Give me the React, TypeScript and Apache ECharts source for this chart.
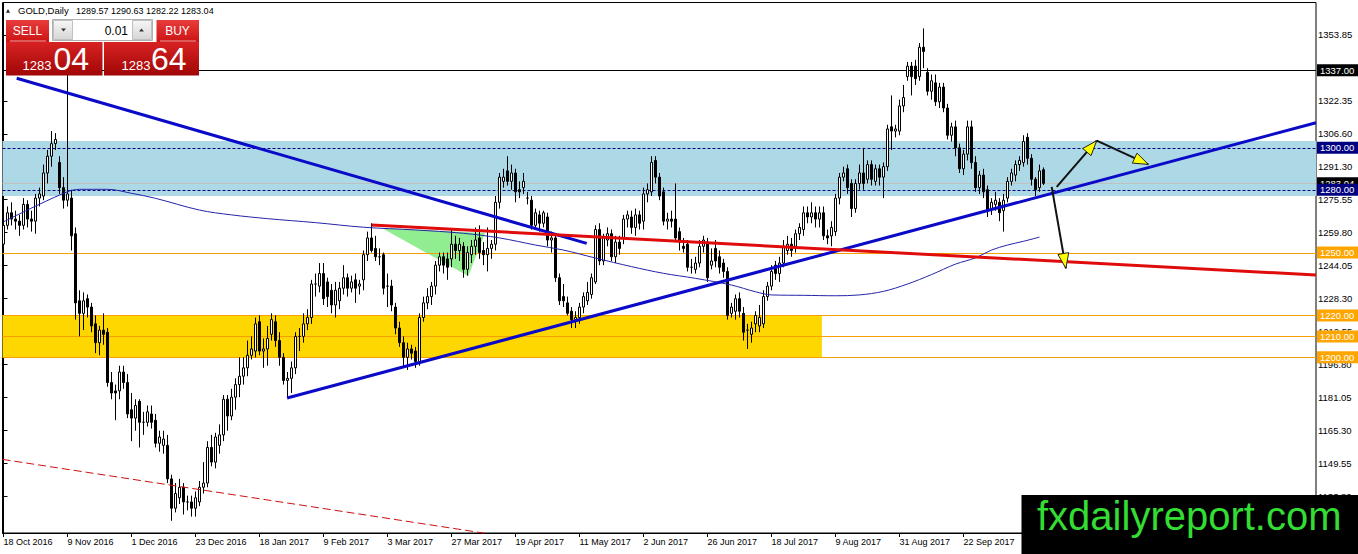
import React, { useEffect, useRef } from "react";
import * as echarts from "echarts";

const FONT = "'Liberation Sans', Arial, sans-serif";

// ---- axis data ----
const dateLabels = [
  "18 Oct 2016", "9 Nov 2016", "1 Dec 2016", "23 Dec 2016", "18 Jan 2017", "9 Feb 2017",
  "3 Mar 2017", "27 Mar 2017", "19 Apr 2017", "11 May 2017", "2 Jun 2017", "26 Jun 2017",
  "18 Jul 2017", "9 Aug 2017", "31 Aug 2017", "22 Sep 2017", "16 Oct 2017",
];
const dateLabelBars = [0, 16, 32, 48, 64, 80, 96, 112, 128, 144, 160, 176, 192, 208, 224, 240, 256];
const priceTicks = [1353.85, 1322.35, 1306.6, 1291.3, 1275.55, 1259.8, 1244.05, 1228.3, 1212.55, 1196.8, 1181.05, 1165.3, 1149.55, 1133.8];

// ---- daily bars: [open, close, low, high] ----
const ohlc: number[][] = [
  [1254,1263,1252,1266],[1263,1269,1261,1272],[1269,1266,1263,1274],[1266,1265,1261,1270],[1265,1263,1258,1268],
  [1263,1273,1261,1276],[1273,1266,1262,1275],[1266,1265,1260,1270],[1265,1276,1259,1278],[1276,1278,1272,1281],
  [1277,1288,1275,1292],[1288,1296,1283,1299],[1296,1302,1291,1308],[1302,1304,1299,1307],[1293,1281,1278,1296],
  [1281,1275,1271,1286],[1275,1278,1272,1337.4],[1276,1258,1251,1280],[1259,1226,1218,1262],[1227,1221,1210,1232],
  [1221,1227,1213,1231],[1228,1224,1219,1230],[1224,1215,1212,1226],[1216,1207,1202,1220],[1207,1213,1201,1215],
  [1213,1211,1206,1221],[1212,1188,1186,1214],[1188,1183,1180,1193],[1184,1183,1170,1187],[1184,1193,1180,1196],
  [1193,1188,1185,1196],[1188,1173,1171,1192],[1175,1171,1160,1183],[1171,1177,1165,1180],[1179,1169,1157,1180],
  [1169,1169,1163,1174],[1169,1174,1167,1177],[1173,1169,1166,1177],[1170,1159,1157,1173],[1159,1162,1155,1165],
  [1158,1161,1154,1165],[1158,1142,1140,1163],[1142,1128,1122,1144],[1128,1135,1126,1140],[1133,1138,1130,1142],
  [1138,1131,1125,1140],[1131,1131,1127,1134],[1131,1128,1124,1134],[1128,1133,1124,1136],[1131,1138,1129,1141],
  [1138,1140,1135,1150],[1140,1157,1138,1160],[1157,1150,1148,1163],[1150,1162,1147,1164],[1158,1163,1154,1168],
  [1163,1180,1160,1182],[1180,1172,1165,1182],[1172,1181,1170,1185],[1181,1187,1175,1190],[1187,1191,1181,1200],
  [1191,1195,1187,1200],[1195,1201,1191,1208],[1201,1204,1199,1210],[1203,1216,1200,1219],[1217,1203,1201,1220],
  [1203,1204,1195,1209],[1204,1209,1196,1215],[1211,1218,1208,1221],[1217,1208,1205,1220],[1208,1200,1196,1212],
  [1200,1189,1187,1202],[1189,1190,1181,1193],[1190,1195,1183,1198],[1195,1210,1192,1212],[1210,1210,1203,1214],
  [1210,1216,1207,1221],[1216,1219,1213,1223],[1219,1235,1216,1237],[1235,1235,1229,1240],[1234,1240,1231,1245],
  [1240,1228,1225,1245],[1236,1229,1224,1238],[1232,1225,1221,1235],[1225,1232,1219,1236],[1227,1233,1223,1236],
  [1233,1238,1230,1244],[1238,1233,1229,1240],[1233,1236,1231,1239],[1237,1233,1226,1240],[1234,1235,1230,1237],
  [1237,1249,1232,1251],[1249,1257,1246,1260],[1257,1251,1250,1264],[1252,1248,1246,1258],[1248,1248,1244,1252],
  [1249,1233,1230,1250],[1234,1234,1224,1240],[1234,1225,1222,1237],[1224,1214,1211,1226],[1214,1207,1205,1217],
  [1207,1200,1196,1210],[1200,1204,1194,1207],[1204,1202,1199,1206],[1203,1198,1195,1205],[1198,1219,1196,1221],
  [1219,1226,1217,1229],[1226,1229,1223,1233],[1229,1234,1225,1236],[1234,1244,1230,1246],[1244,1248,1241,1250],
  [1248,1244,1240,1250],[1247,1243,1237,1250],[1247,1254,1243,1261],[1254,1251,1247,1258],[1251,1254,1246,1257],
  [1253,1242,1238,1255],[1242,1250,1239,1253],[1249,1253,1245,1256],[1253,1256,1249,1262],[1257,1250,1247,1263],
  [1251,1249,1244,1255],[1249,1252,1241,1262],[1252,1254,1247,1256],[1254,1274,1251,1277],[1274,1286,1271,1288],
  [1284,1286,1281,1290],[1289,1284,1282,1296],[1284,1288,1280,1292],[1288,1279,1274,1290],[1280,1279,1276,1284],
  [1281,1284,1278,1288],[1276,1276,1273,1279],[1275,1263,1261,1277],[1263,1269,1261,1271],[1268,1264,1260,1270],
  [1264,1269,1262,1270],[1267,1256,1253,1269],[1256,1257,1250,1260],[1257,1238,1236,1259],[1238,1227,1225,1240],
  [1229,1227,1224,1235],[1226,1221,1220,1229],[1222,1218,1214,1224],[1218,1219,1214,1222],[1219,1224,1216,1226],
  [1224,1229,1221,1231],[1227,1231,1225,1236],[1230,1238,1228,1240],[1236,1261,1235,1263],[1261,1246,1244,1264],
  [1246,1257,1244,1259],[1256,1259,1253,1262],[1259,1248,1246,1261],[1248,1255,1245,1258],[1255,1252,1249,1258],
  [1257,1266,1254,1268],[1266,1268,1262,1270],[1267,1262,1259,1270],[1262,1268,1258,1271],[1268,1264,1261,1270],
  [1265,1278,1261,1281],[1278,1280,1274,1283],[1279,1293,1277,1296],[1294,1286,1283,1296],[1286,1277,1275,1288],
  [1279,1265,1263,1281],[1265,1266,1261,1269],[1266,1265,1262,1270],[1266,1257,1255,1283],[1260,1255,1251,1262],
  [1253,1252,1250,1257],[1254,1243,1241,1256],[1243,1243,1240,1247],[1242,1245,1240,1248],[1245,1253,1243,1256],
  [1253,1256,1250,1258],[1255,1238,1236,1257],[1244,1246,1242,1252],[1252,1246,1243,1256],[1248,1243,1240,1251],
  [1245,1241,1238,1247],[1241,1220,1218,1243],[1221,1224,1219,1226],[1222,1228,1218,1230],[1228,1222,1219,1231],
  [1221,1212,1208,1224],[1213,1213,1204,1216],[1211,1214,1207,1217],[1216,1220,1212,1222],[1215,1219,1212,1225],
  [1216,1229,1214,1232],[1229,1234,1227,1236],[1234,1241,1232,1244],[1244,1240,1237,1246],[1240,1245,1236,1248],
  [1245,1253,1243,1256],[1251,1254,1249,1258],[1254,1251,1248,1257],[1253,1259,1250,1261],[1259,1262,1256,1264],
  [1261,1269,1258,1272],[1269,1267,1264,1272],[1267,1269,1264,1274],[1269,1266,1262,1272],[1266,1269,1262,1272],
  [1269,1258,1256,1272],[1258,1257,1254,1261],[1258,1262,1253,1265],[1260,1276,1258,1278],[1276,1286,1273,1288],
  [1286,1288,1284,1291],[1290,1281,1278,1292],[1283,1271,1267,1285],[1271,1283,1269,1285],[1283,1288,1280,1292],
  [1288,1283,1280,1300],[1285,1292,1283,1294],[1292,1285,1282,1294],[1284,1290,1282,1292],[1290,1286,1282,1292],
  [1286,1291,1276,1293],[1291,1309,1289,1311],[1310,1308,1299,1325],[1308,1309,1305,1311],[1308,1320,1306,1323],
  [1320,1324,1317,1330],[1334,1339,1332,1341],[1339,1334,1325,1341],[1339,1333,1330,1342],[1334,1348,1332,1350],
  [1348,1346,1338,1357],[1336,1327,1325,1338],[1327,1332,1323,1335],[1331,1322,1320,1335],[1322,1329,1319,1331],
  [1329,1319,1317,1331],[1319,1306,1304,1321],[1306,1310,1303,1312],[1310,1300,1296,1313],[1300,1290,1288,1302],
  [1290,1297,1287,1299],[1297,1310,1294,1313],[1310,1293,1290,1313],[1293,1281,1279,1296],[1281,1287,1278,1289],
  [1287,1279,1276,1290],[1280,1270,1267,1282],[1271,1274,1268,1276],[1273,1275,1270,1279],[1274,1269,1265,1276],
  [1270,1275,1260,1278],[1276,1284,1274,1286],[1284,1288,1282,1290],[1287,1292,1284,1294],[1292,1294,1289,1296],
  [1293,1303,1291,1306],[1305,1295,1292,1307],[1295,1285,1282,1297],[1285,1280,1277,1286],[1281,1289,1279,1292],
  [1289.57,1283.04,1282.22,1290.63],
];

// ---- moving average (bar index, value) ----
const maBars = [0, 15, 19, 26, 32, 38, 49, 57, 66, 78, 90, 103, 115, 124, 133, 140, 148, 157, 165, 173, 182, 188, 192, 200, 208, 214, 220, 226, 232, 238, 243, 247, 251, 255, 259];
const maValues = [1264.7, 1278.3, 1280.2, 1280.2, 1278.3, 1275.9, 1270.3, 1268.0, 1266.2, 1264.3, 1262.1, 1260.8, 1259.2, 1257.0, 1253.6, 1251.2, 1247.4, 1243.3, 1240.1, 1237.7, 1234.5, 1231.3, 1229.8, 1229.6, 1229.4, 1229.8, 1231.5, 1235.0, 1239.5, 1244.5, 1247.5, 1251.2, 1253.6, 1255.4, 1257.4];

// ---- drawn objects (bar index, price) ----
const zoneBounds = [[1303.3, 1277.0], [1220.2, 1200.0]];
const zoneEndBar = [null, 204.6];
const levelValues = [1337, 1300, 1283.04, 1280, 1250, 1220, 1210, 1200];
const trendLines = [
  [[3.3, 1333.2], [145.8, 1254.4]],
  [[70.9, 1180.6], [328.125, 1312.0]],
  [[92.0, 1263.2], [328.125, 1239.3]],
  [[-0.25, 1151.3], [120.2, 1116.1]],
];
const greenTriangle = [[94.55, 1261.7], [120.4, 1259.3], [116.2, 1238.8]];
const arrowLines = [
  [[263.3, 1281.4], [273.3, 1303.4]],
  [[273.3, 1303.4], [286.2, 1292.1]],
  [[262.05, 1281.4], [265.6, 1242.5]],
];

// ---- styles ----
const X_MIN = -0.25;
const X_MAX = 328.125;
const Y_MIN = 1116.17;
const Y_MAX = 1369.36;
const zoneColors = ["#add8e6", "#ffd700"];
const levelStyles = [
  { color: "#000000", dash: null as number[] | null, bg: "#000000" },
  { color: "#000080", dash: [3, 2], bg: "#000080" },
  { color: "#c0c0c0", dash: null, bg: "#000000" },
  { color: "#000080", dash: [3, 2], bg: "#000080" },
  { color: "#f5a000", dash: null, bg: "#ffa500" },
  { color: "#f5a000", dash: null, bg: "#ffa500" },
  { color: "#f5a000", dash: null, bg: "#ffa500" },
  { color: "#f5a000", dash: null, bg: "#ffa500" },
];
const trendStyles = [
  { color: "#0a0ac8", width: 3, dash: null as number[] | null },
  { color: "#0a0ac8", width: 3, dash: null },
  { color: "#e00c0c", width: 3, dash: null },
  { color: "#d01010", width: 1, dash: [8, 4] },
];

const redGrad = (a: string, b: string) => ({
  type: "linear", x: 0, y: 0, x2: 0, y2: 1,
  colorStops: [{ offset: 0, color: a }, { offset: 1, color: b }],
});

function buildPanel(): any[] {
  const g: any[] = [];
  // header
  g.push({ type: "polygon", shape: { points: [[6, 12.7], [10, 12.7], [8, 9]] }, style: { fill: "#222" }, z: 100 });
  g.push({ type: "text", x: 18, y: 10.8, style: { text: "GOLD,Daily", fill: "#000", fontSize: 9.5, fontFamily: FONT, verticalAlign: "middle" }, z: 100 });
  g.push({ type: "text", x: 76, y: 10.8, style: { text: "1289.57 1290.63 1282.22 1283.04", fill: "#000", fontSize: 9, fontFamily: FONT, verticalAlign: "middle" }, z: 100 });
  // upper row
  g.push({ type: "rect", shape: { x: 6, y: 20, width: 43, height: 22 }, style: { fill: redGrad("#e83c3c", "#cc1414") }, z: 100 });
  g.push({ type: "rect", shape: { x: 156.5, y: 20, width: 42.5, height: 22 }, style: { fill: redGrad("#e83c3c", "#cc1414") }, z: 100 });
  g.push({ type: "text", x: 27.5, y: 30.5, style: { text: "SELL", fill: "#fff", fontSize: 12, fontFamily: FONT, align: "center", verticalAlign: "middle" }, z: 101 });
  g.push({ type: "text", x: 177.5, y: 30.5, style: { text: "BUY", fill: "#fff", fontSize: 12, fontFamily: FONT, align: "center", verticalAlign: "middle" }, z: 101 });
  g.push({ type: "line", shape: { x1: 10, y1: 41, x2: 46, y2: 41 }, style: { stroke: "rgba(255,255,255,0.6)", lineWidth: 1 }, z: 101 });
  g.push({ type: "line", shape: { x1: 160, y1: 41, x2: 196, y2: 41 }, style: { stroke: "rgba(255,255,255,0.6)", lineWidth: 1 }, z: 101 });
  // spinner
  g.push({ type: "rect", shape: { x: 52.5, y: 19.5, width: 100, height: 21 }, style: { fill: "#fff", stroke: "#b0b0b0", lineWidth: 1 }, z: 100 });
  g.push({ type: "rect", shape: { x: 53.5, y: 20.5, width: 19, height: 19 }, style: { fill: redGrad("#f6f6f6", "#d6d6d6"), stroke: "#c0c0c0", lineWidth: 1 }, z: 101 });
  g.push({ type: "rect", shape: { x: 132.5, y: 20.5, width: 19, height: 19 }, style: { fill: redGrad("#f6f6f6", "#d6d6d6"), stroke: "#c0c0c0", lineWidth: 1 }, z: 101 });
  g.push({ type: "polygon", shape: { points: [[61, 28.5], [66, 28.5], [63.5, 31.5]] }, style: { fill: "#333" }, z: 102 });
  g.push({ type: "polygon", shape: { points: [[139, 31.5], [144, 31.5], [141.5, 28.5]] }, style: { fill: "#333" }, z: 102 });
  g.push({ type: "text", x: 128, y: 30.5, style: { text: "0.01", fill: "#000", fontSize: 12, fontFamily: FONT, align: "right", verticalAlign: "middle" }, z: 101 });
  // price boxes
  g.push({ type: "rect", shape: { x: 6, y: 42, width: 96.5, height: 33.5 }, style: { fill: redGrad("#d82222", "#a00606") }, z: 100 });
  g.push({ type: "rect", shape: { x: 104, y: 42, width: 95, height: 33.5 }, style: { fill: redGrad("#d82222", "#a00606") }, z: 100 });
  g.push({ type: "text", x: 22.5, y: 65.5, style: { text: "1283", fill: "#fff", fontSize: 13, fontFamily: FONT, verticalAlign: "middle" }, z: 101 });
  g.push({ type: "text", x: 53.5, y: 59.3, style: { text: "04", fill: "#fff", fontSize: 32, fontFamily: FONT, verticalAlign: "middle" }, z: 101 });
  g.push({ type: "text", x: 121.5, y: 65.5, style: { text: "1283", fill: "#fff", fontSize: 13, fontFamily: FONT, verticalAlign: "middle" }, z: 101 });
  g.push({ type: "text", x: 151, y: 59.3, style: { text: "64", fill: "#fff", fontSize: 32, fontFamily: FONT, verticalAlign: "middle" }, z: 101 });
  // logo
  g.push({ type: "rect", shape: { x: 1021.5, y: 495, width: 337, height: 59 }, style: { fill: "#000" }, z: 100 });
  g.push({ type: "text", x: 1037, y: 516, style: { text: "fxdailyreport.com", fill: "#33dd33", fontSize: 40, fontFamily: FONT, verticalAlign: "middle" }, z: 101 });
  return g;
}

export default function App() {
  const ref = useRef<HTMLDivElement>(null);

  useEffect(() => {
    if (!ref.current) return;
    const chart = echarts.init(ref.current, null, { renderer: "svg" });

    const candleData = ohlc.map((d, i) => [i, d[0], d[1], d[2], d[3]]);
    const maData = maBars.map((b, k) => [b, maValues[k]]);

    const option: any = {
      animation: false,
      backgroundColor: "#ffffff",
      grid: {
        left: 2.5, right: 42, top: 2.5, bottom: 21,
        show: true, borderColor: "#000", borderWidth: 1, backgroundColor: "#fff",
        containLabel: false, outerBoundsMode: "none",
      },
      xAxis: {
        type: "value", min: X_MIN, max: X_MAX,
        splitLine: { show: false },
        axisLine: { show: true, lineStyle: { color: "#000", width: 1 } },
        axisTick: { show: true, customValues: dateLabelBars, length: 4, lineStyle: { color: "#000" } },
        axisLabel: {
          customValues: dateLabelBars, margin: 4, align: "left",
          color: "#000", fontSize: 9, fontFamily: FONT,
          formatter: (v: number) => {
            const k = dateLabelBars.indexOf(Math.round(v));
            return k >= 0 ? dateLabels[k] : "";
          },
        },
      },
      yAxis: {
        type: "value", position: "right", min: Y_MIN, max: Y_MAX, scale: true,
        splitLine: { show: false },
        axisLine: { show: true, lineStyle: { color: "#000", width: 1 } },
        axisTick: { show: true, customValues: priceTicks, length: 4, lineStyle: { color: "#000" } },
        axisLabel: {
          customValues: priceTicks, margin: 2, color: "#000", fontSize: 9.5, fontFamily: FONT,
          formatter: (v: number) => v.toFixed(2),
        },
      },
      graphic: buildPanel(),
      series: [
        {
          type: "custom", name: "zones", z: 1, silent: true, clip: false,
          data: zoneBounds.map((b, k) => [k, b[0]]),
          renderItem: (params: any, api: any) => {
            const k = params.dataIndex;
            const end = zoneEndBar[k] == null ? X_MAX : (zoneEndBar[k] as number);
            const p0 = api.coord([X_MIN, zoneBounds[k][0]]);
            const p1 = api.coord([end, zoneBounds[k][1]]);
            return { type: "rect", shape: { x: p0[0], y: p0[1], width: p1[0] - p0[0], height: p1[1] - p0[1] }, style: { fill: zoneColors[k] } };
          },
        },
        {
          type: "custom", name: "triangle", z: 1, silent: true, clip: false,
          data: [[greenTriangle[0][0], greenTriangle[0][1]]],
          renderItem: (params: any, api: any) => ({
            type: "polygon",
            shape: { points: greenTriangle.map((p) => api.coord(p)) },
            style: { fill: "#90ee90" },
          }),
        },
        {
          type: "custom", name: "levels", z: 2, silent: true, clip: false,
          data: levelValues.map((v, k) => [k, v]),
          renderItem: (params: any, api: any) => {
            const k = params.dataIndex;
            const a = api.coord([X_MIN, levelValues[k]]);
            const b = api.coord([X_MAX, levelValues[k]]);
            const y = Math.round(a[1]) + 0.5;
            return {
              type: "line",
              shape: { x1: a[0], y1: y, x2: b[0], y2: y },
              style: { stroke: levelStyles[k].color, lineWidth: 1, lineDash: levelStyles[k].dash || undefined },
            };
          },
        },
        {
          type: "candlestick", name: "GOLD", z: 3, barWidth: 3, silent: true,
          data: candleData,
          itemStyle: {
            color: "#ffffff", color0: "#000000",
            borderColor: "#000000", borderColor0: "#000000", borderColorDoji: "#000000",
            borderWidth: 1,
          },
        },
        {
          type: "line", name: "MA", z: 4, silent: true, smooth: 0.35,
          symbol: "none", showSymbol: false,
          data: maData,
          lineStyle: { color: "#2424a8", width: 1 },
        },
        {
          type: "custom", name: "trendlines", z: 5, silent: true, clip: false,
          data: trendLines.map((t, k) => [k, t[0][1]]),
          renderItem: (params: any, api: any) => {
            const k = params.dataIndex;
            const a = api.coord(trendLines[k][0]);
            const b = api.coord(trendLines[k][1]);
            return {
              type: "line",
              shape: { x1: a[0], y1: a[1], x2: b[0], y2: b[1] },
              style: { stroke: trendStyles[k].color, lineWidth: trendStyles[k].width, lineDash: trendStyles[k].dash || undefined },
            };
          },
        },
        {
          type: "custom", name: "arrows", z: 6, silent: true, clip: false,
          data: arrowLines.map((t, k) => [k, t[0][1]]),
          renderItem: (params: any, api: any) => {
            const k = params.dataIndex;
            const a = api.coord(arrowLines[k][0]);
            const b = api.coord(arrowLines[k][1]);
            const dx = b[0] - a[0];
            const dy = b[1] - a[1];
            const len = Math.sqrt(dx * dx + dy * dy) || 1;
            const ux = dx / len, uy = dy / len;
            const nx = -uy, ny = ux;
            const L = 15, W = 11;
            const bx = b[0] - ux * L, by = b[1] - uy * L;
            return {
              type: "group",
              children: [
                { type: "line", shape: { x1: a[0], y1: a[1], x2: b[0], y2: b[1] }, style: { stroke: "#111", lineWidth: 2 } },
                {
                  type: "polygon",
                  shape: { points: [[b[0], b[1]], [bx + nx * W / 2, by + ny * W / 2], [bx - nx * W / 2, by - ny * W / 2]] },
                  style: { fill: "#ffff00", stroke: "#222", lineWidth: 1 },
                },
              ],
            };
          },
        },
        {
          type: "custom", name: "levelLabels", z: 7, silent: true, clip: false,
          data: levelValues.map((v, k) => [k, v]),
          renderItem: (params: any, api: any) => {
            const k = params.dataIndex;
            const y = api.coord([0, levelValues[k]])[1];
            const cs = params.coordSys;
            return {
              type: "text",
              x: cs.x + cs.width + 1,
              y: y,
              style: {
                text: levelValues[k].toFixed(2), fill: "#fff", fontSize: 9.5, fontFamily: FONT,
                backgroundColor: levelStyles[k].bg, padding: [1, 6, 1, 3],
                align: "left", verticalAlign: "middle",
              },
            };
          },
        },
      ],
    };

    chart.setOption(option);
    return () => chart.dispose();
  }, []);

  return (
    <div
      ref={ref}
      style={{ position: "fixed", left: 0, top: 0, width: 1358, height: 554, background: "#fff" }}
    />
  );
}
